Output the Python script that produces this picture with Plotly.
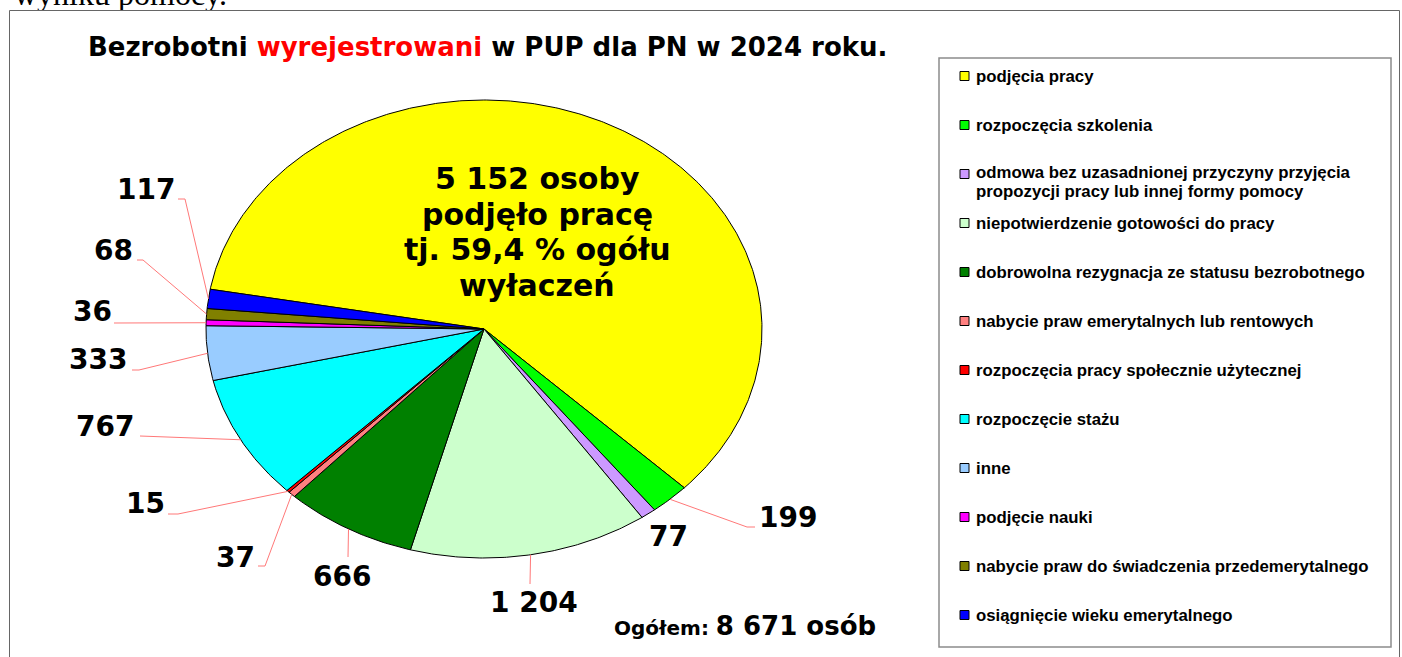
import numpy as np
import plotly.graph_objects as go

# ---------------- data ----------------
categories = [
    "podjęcia pracy",
    "rozpoczęcia szkolenia",
    "odmowa bez uzasadnionej przyczyny przyjęcia\npropozycji pracy lub innej formy pomocy",
    "niepotwierdzenie gotowości do pracy",
    "dobrowolna rezygnacja ze statusu bezrobotnego",
    "nabycie praw emerytalnych lub rentowych",
    "rozpoczęcia pracy społecznie użytecznej",
    "rozpoczęcie stażu",
    "inne",
    "podjęcie nauki",
    "nabycie praw do świadczenia przedemerytalnego",
    "osiągnięcie wieku emerytalnego",
]
values = [5152, 199, 77, 1204, 666, 37, 15, 767, 333, 36, 68, 117]
colors = ["#FFFF00", "#00FF00", "#CC99FF", "#CCFFCC", "#008000", "#FF8080",
          "#FF0000", "#00FFFF", "#99CCFF", "#FF00FF", "#808000", "#0000FF"]
title_parts = ["Bezrobotni ", "wyrejestrowani", " w PUP dla PN w 2024 roku."]
highlight_lines = ["{n} osoby", "podjęło pracę", "tj. {p} % ogółu", "wyłaczeń"]
total_words = ["Ogółem:", "osób"]
above_text = "wyniku pomocy."

# ---------------- layout constants ----------------
W, H = 1402, 657
CX, CY, RX, RY = 484.0, 329.0, 278.0, 229.0
START_DEG = 170.0
LABEL_FONT = "DejaVu Sans"
LEGEND_FONT = "Liberation Sans, Arial"
LEADER_COLOR = "#FF7878"

# label text centres (layout) by slice index
LABEL_POS = {1: (788, 517), 2: (668, 536), 3: (534, 602), 4: (342, 576),
             5: (235, 557), 6: (145, 503), 7: (105, 426), 8: (98, 359),
             9: (92, 311), 10: (113, 250), 11: (146, 189)}
# leader elbows / ends, from rim outwards (layout)
LEADER_PTS = {1: [(747, 527), (755, 527)], 3: [(530, 584)], 4: [(348, 557)],
              5: [(265, 566), (258, 566)], 6: [(178, 514), (168, 514)],
              7: [(140, 436)], 8: [(139, 370), (132, 370)], 9: [(114, 323)],
              10: [(143, 260), (137, 260)], 11: [(185, 199), (178, 199)]}
HIGHLIGHT_X = 537
HIGHLIGHT_Y = [178, 214, 249, 285]

LEG_X0, LEG_Y0, LEG_X1, LEG_Y1 = 939, 58, 1391, 647
LEG_ITEM_Y0, LEG_STEP, LEG_LINE = 76, 49, 19


def fmt(v):
    return f"{v:,}".replace(",", " ")


def ell(t_deg):
    t = np.radians(t_deg)
    return CX + RX * np.cos(t), CY - RY * np.sin(t)


total = sum(values)
fig = go.Figure()

# cut-off line of document text above the chart
fig.add_trace(go.Scatter(
    x=[14], y=[-3.5], mode="text", text=[above_text], textposition="middle right",
    textfont=dict(family="Liberation Serif, Times New Roman", size=32, color="black"),
    hoverinfo="skip", showlegend=False))

# pie slices (elliptical, clockwise)
mids = []
cum = 0
for v, c, name in zip(values, colors, categories):
    a0 = START_DEG - 360.0 * cum / total
    a1 = START_DEG - 360.0 * (cum + v) / total
    n = max(3, int(abs(a1 - a0) * 2) + 2)
    xs, ys = ell(np.linspace(a0, a1, n))
    fig.add_trace(go.Scatter(
        x=np.concatenate([[CX], xs, [CX]]), y=np.concatenate([[CY], ys, [CY]]),
        mode="lines", fill="toself", fillcolor=c,
        line=dict(color="black", width=1), hoverinfo="skip",
        showlegend=False, name=name.replace("\n", " ")))
    mids.append((a0 + a1) / 2)
    cum += v

# leader lines
for i, pts in LEADER_PTS.items():
    ax, ay = ell(mids[i])
    px = [float(ax)] + [p[0] for p in pts]
    py = [float(ay)] + [p[1] for p in pts]
    fig.add_trace(go.Scatter(x=px, y=py, mode="lines",
                             line=dict(color=LEADER_COLOR, width=1),
                             hoverinfo="skip", showlegend=False))

annotations = []
# value labels
for i, (lx, ly) in LABEL_POS.items():
    annotations.append(dict(x=lx, y=ly, text=f"<b>{fmt(values[i])}</b>", showarrow=False,
                            xanchor="center", yanchor="middle",
                            font=dict(family=LABEL_FONT, size=28, color="black")))

# highlight text in the largest slice
pct = f"{100 * values[0] / total:.1f}".replace(".", ",")
for line, yy in zip(highlight_lines, HIGHLIGHT_Y):
    annotations.append(dict(x=HIGHLIGHT_X, y=yy,
                            text="<b>" + line.format(n=fmt(values[0]), p=pct) + "</b>",
                            showarrow=False, xanchor="center", yanchor="middle",
                            font=dict(family=LABEL_FONT, size=30, color="black")))

# title
annotations.append(dict(
    x=487, y=47, showarrow=False, xanchor="center", yanchor="middle",
    text=f"<b>{title_parts[0]}<span style='color:#FF0000'>{title_parts[1]}</span>{title_parts[2]}</b>",
    font=dict(family=LABEL_FONT, size=26, color="black")))

# total
annotations.append(dict(
    x=612, y=626, showarrow=False, xanchor="left", yanchor="middle",
    text=f"<b><span style='font-size:20px'>{total_words[0]} </span>{fmt(total)} {total_words[1]}</b>",
    font=dict(family=LABEL_FONT, size=26, color="black")))

shapes = []
# legend box
shapes.append(dict(type="rect", x0=LEG_X0, y0=LEG_Y0, x1=LEG_X1, y1=LEG_Y1,
                   line=dict(color="#8C8C8C", width=1.5), fillcolor="rgba(0,0,0,0)"))
for k, (name, c) in enumerate(zip(categories, colors)):
    yy = LEG_ITEM_Y0 + LEG_STEP * k
    shapes.append(dict(type="rect", x0=960, x1=969, y0=yy - 4.5, y1=yy + 4.5,
                       line=dict(color="black", width=1), fillcolor=c))
    parts = name.split("\n")
    for j, part in enumerate(parts):
        ty = yy + LEG_LINE * j - (1.5 if len(parts) > 1 else 0)
        annotations.append(dict(x=974, y=ty, text=f"<b>{part}</b>",
                                showarrow=False, xanchor="left", yanchor="middle",
                                font=dict(family=LEGEND_FONT, size=16.8, color="black")))

# white strip hiding descenders of the text above, then the chart frame
shapes.append(dict(type="rect", x0=0, x1=W, y0=10.5, y1=18, layer="above",
                   line=dict(width=0), fillcolor="white"))
shapes.append(dict(type="rect", x0=9.5, x1=1399.5, y0=10.5, y1=H + 10, layer="above",
                   line=dict(color="#666666", width=1), fillcolor="rgba(0,0,0,0)"))

fig.update_layout(
    width=W, height=H, margin=dict(l=0, r=0, t=0, b=0),
    paper_bgcolor="white", plot_bgcolor="white",
    xaxis=dict(range=[0, W], visible=False, fixedrange=True),
    yaxis=dict(range=[H, 0], visible=False, fixedrange=True),
    showlegend=False, annotations=annotations, shapes=shapes,
)

fig.write_html("out.html", config={"displayModeBar": False},
               post_script="document.body.style.margin='0';")
